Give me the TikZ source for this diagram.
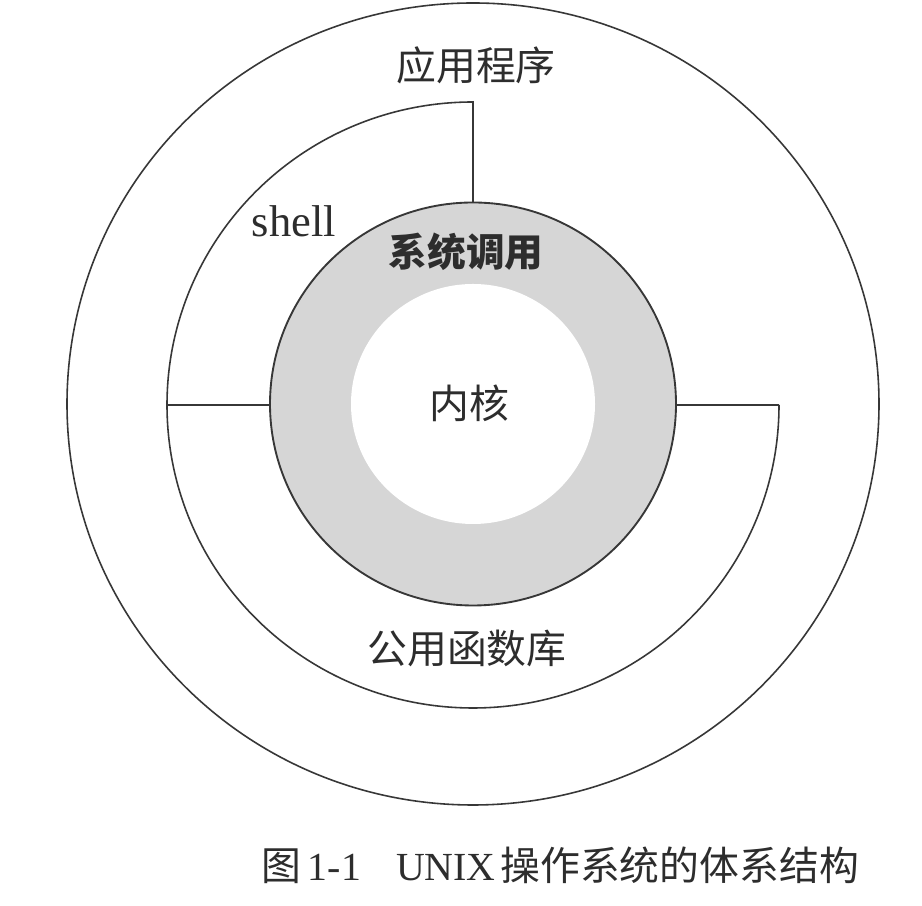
\documentclass[tikz,border=0pt]{standalone}
\usepackage{fontspec}
\setmainfont{Liberation Serif}
\newfontfamily\cjk{Noto Sans CJK SC}
\definecolor{ringgray}{RGB}{214,214,214}
\definecolor{ink}{RGB}{45,45,45}
\definecolor{linecol}{RGB}{55,55,55}
\begin{document}
\begin{tikzpicture}[x=0.03cm,y=0.03cm,
  ring/.style={draw=linecol,line width=1.35pt},
  divider/.style={draw=linecol,line width=1.8pt},
  cjklabel/.style={text=ink,inner sep=0pt,font=\cjk\fontsize{34}{37}\selectfont},
  latlabel/.style={text=ink,inner sep=0pt,font=\fontsize{38}{42}\selectfont}]
\useasboundingbox (0,0) rectangle (922,906);
\fill[white] (0,0) rectangle (922,906);
\coordinate (c) at (473,502);
% outer circle
\draw[ring] (c) ellipse [x radius=406, y radius=401];
% middle shell / library outline
\coordinate (midR) at (779,501);
\coordinate (midL) at (167,501);
\coordinate (midT) at (473,805);
\coordinate (inT) at (473,703.5);
\coordinate (inL) at (270,501);
\coordinate (inR) at (676,501);
\draw[ring] (midR) arc [start angle=0, end angle=-270, x radius=306, y radius=303];
% gray ring
\fill[ringgray] (c) ellipse [x radius=203, y radius=201.5];
\fill[white] (c) ellipse [x radius=122, y radius=120];
\draw[draw=linecol,line width=1.6pt] (c) ellipse [x radius=203, y radius=201.5];
% dividers
\draw[divider] (midT) -- (inT);
\draw[divider] (midL) -- (inL);
\draw[divider] (inR) -- (midR);
% labels
\node[cjklabel] (app) at (476,841) {应用程序};
\node[latlabel,anchor=base] (shell) at (294,669) {shell};
\node[cjklabel,font=\cjk\bfseries\fontsize{33}{36}\selectfont] (sys) at (466,654) {系统调用};
\node[cjklabel] (kern) at (469,503) {内核};
\node[cjklabel] (lib) at (467,258) {公用函数库};
\node[text=ink,inner sep=0pt,font=\fontsize{34}{38}\selectfont] (cap) at (560,41)
  {{\cjk 图}\hspace{6pt}1-1\hspace{30pt}UNIX\hspace{4pt}{\cjk 操作系统的体系结构}};
\end{tikzpicture}
\end{document}
